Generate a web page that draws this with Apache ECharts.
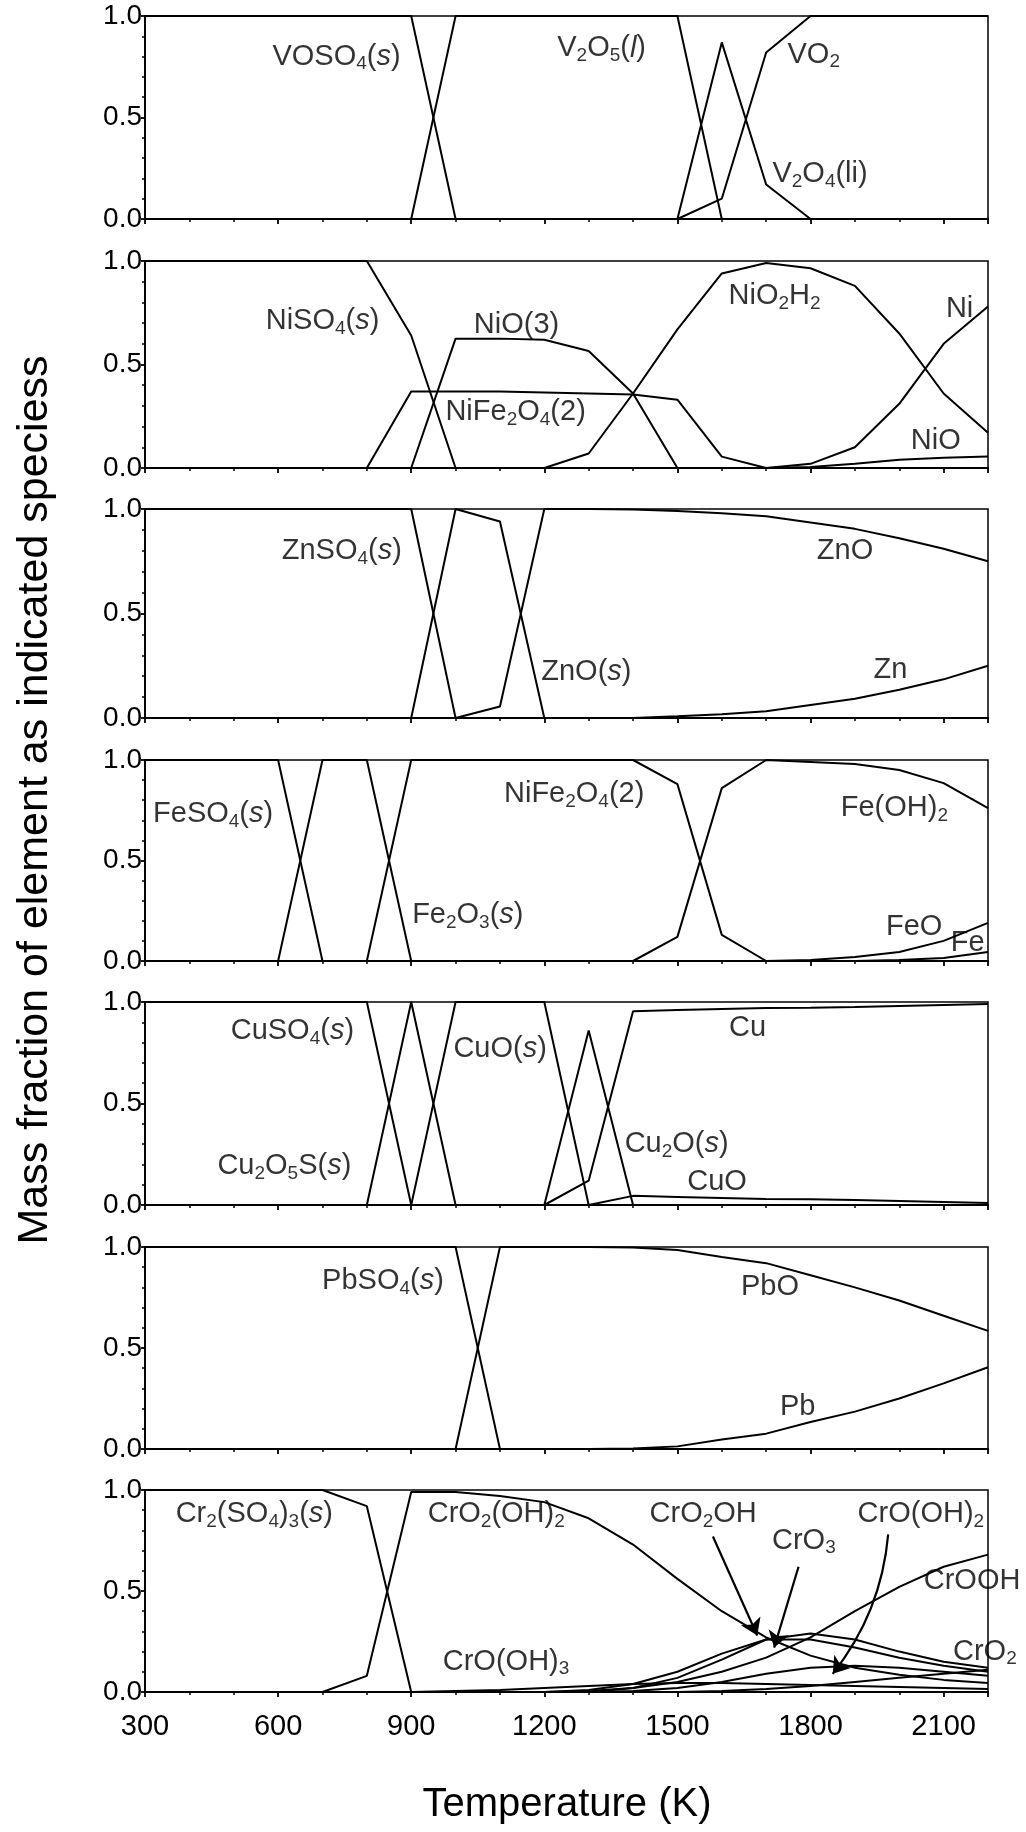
<!DOCTYPE html>
<html>
<head>
<meta charset="utf-8">
<script src="https://cdn.jsdelivr.net/npm/echarts@6/dist/echarts.min.js"></script>
<style>
  html, body { margin: 0; padding: 0; background: #fff; }
  #chart { width: 1026px; height: 1832px; }
</style>
</head>
<body>
<div id="chart"></div>
<script>
// temperature grid (K), one value per 100 K
const temps = [300, 400, 500, 600, 700, 800, 900, 1000, 1100, 1200, 1300, 1400, 1500, 1600, 1700, 1800, 1900, 2000, 2100, 2200];

// vanadium
const VOSO4   = [1, 1, 1, 1, 1, 1, 1, 0, 0, 0, 0, 0, 0, 0, 0, 0, 0, 0, 0, 0];
const V2O5    = [0, 0, 0, 0, 0, 0, 0, 1, 1, 1, 1, 1, 1, 0, 0, 0, 0, 0, 0, 0];
const V2O4li  = [0, 0, 0, 0, 0, 0, 0, 0, 0, 0, 0, 0, 0, 0.87, 0.17, 0, 0, 0, 0, 0];
const VO2     = [0, 0, 0, 0, 0, 0, 0, 0, 0, 0, 0, 0, 0, 0.1, 0.82, 1, 1, 1, 1, 1];

// nickel
const NiSO4   = [1, 1, 1, 1, 1, 1, 0.64, 0, 0, 0, 0, 0, 0, 0, 0, 0, 0, 0, 0, 0];
const NiFe2O4 = [0, 0, 0, 0, 0, 0, 0.37, 0.37, 0.37, 0.365, 0.36, 0.355, 0.33, 0.055, 0, 0, 0, 0, 0, 0];
const NiO3    = [0, 0, 0, 0, 0, 0, 0, 0.625, 0.625, 0.62, 0.565, 0.36, 0, 0, 0, 0, 0, 0, 0, 0];
const NiO2H2  = [0, 0, 0, 0, 0, 0, 0, 0, 0, 0, 0.07, 0.36, 0.67, 0.94, 0.99, 0.965, 0.88, 0.65, 0.36, 0.17];
const Ni      = [0, 0, 0, 0, 0, 0, 0, 0, 0, 0, 0, 0, 0, 0, 0, 0.02, 0.1, 0.31, 0.6, 0.78];
const NiO     = [0, 0, 0, 0, 0, 0, 0, 0, 0, 0, 0, 0, 0, 0, 0, 0.005, 0.02, 0.04, 0.05, 0.055];

// zinc
const ZnSO4   = [1, 1, 1, 1, 1, 1, 1, 0, 0, 0, 0, 0, 0, 0, 0, 0, 0, 0, 0, 0];
const ZnOs    = [0, 0, 0, 0, 0, 0, 0, 1, 0.94, 0, 0, 0, 0, 0, 0, 0, 0, 0, 0, 0];
const ZnO     = [0, 0, 0, 0, 0, 0, 0, 0, 0.055, 1, 1, 0.998, 0.99, 0.98, 0.965, 0.935, 0.905, 0.86, 0.81, 0.75];
const Zn      = [0, 0, 0, 0, 0, 0, 0, 0, 0, 0, 0, 0, 0.008, 0.018, 0.032, 0.062, 0.092, 0.135, 0.185, 0.25];

// iron
const FeSO4   = [1, 1, 1, 1, 0, 0, 0, 0, 0, 0, 0, 0, 0, 0, 0, 0, 0, 0, 0, 0];
const Fe2O3   = [0, 0, 0, 0, 1, 1, 0, 0, 0, 0, 0, 0, 0, 0, 0, 0, 0, 0, 0, 0];
const NiFe2O4Fe = [0, 0, 0, 0, 0, 0, 1, 1, 1, 1, 1, 1, 0.88, 0.13, 0, 0, 0, 0, 0, 0];
const FeOH2   = [0, 0, 0, 0, 0, 0, 0, 0, 0, 0, 0, 0, 0.12, 0.86, 1, 0.99, 0.98, 0.95, 0.885, 0.76];
const FeO     = [0, 0, 0, 0, 0, 0, 0, 0, 0, 0, 0, 0, 0, 0, 0, 0.005, 0.02, 0.045, 0.1, 0.19];
const Fe      = [0, 0, 0, 0, 0, 0, 0, 0, 0, 0, 0, 0, 0, 0, 0, 0, 0, 0.005, 0.015, 0.045];

// copper
const CuSO4   = [1, 1, 1, 1, 1, 1, 0, 0, 0, 0, 0, 0, 0, 0, 0, 0, 0, 0, 0, 0];
const Cu2O5S  = [0, 0, 0, 0, 0, 0, 1, 0, 0, 0, 0, 0, 0, 0, 0, 0, 0, 0, 0, 0];
const CuOs    = [0, 0, 0, 0, 0, 0, 0, 1, 1, 1, 0, 0, 0, 0, 0, 0, 0, 0, 0, 0];
const Cu2Os   = [0, 0, 0, 0, 0, 0, 0, 0, 0, 0, 0.86, 0, 0, 0, 0, 0, 0, 0, 0, 0];
const Cu      = [0, 0, 0, 0, 0, 0, 0, 0, 0, 0, 0.12, 0.955, 0.96, 0.965, 0.97, 0.972, 0.975, 0.98, 0.985, 0.99];
const CuO     = [0, 0, 0, 0, 0, 0, 0, 0, 0, 0, 0, 0.045, 0.04, 0.035, 0.03, 0.028, 0.025, 0.02, 0.015, 0.01];

// lead
const PbSO4   = [1, 1, 1, 1, 1, 1, 1, 1, 0, 0, 0, 0, 0, 0, 0, 0, 0, 0, 0, 0];
const PbO     = [0, 0, 0, 0, 0, 0, 0, 0, 1, 1, 1, 0.998, 0.985, 0.95, 0.92, 0.86, 0.8, 0.735, 0.66, 0.585];
const Pb      = [0, 0, 0, 0, 0, 0, 0, 0, 0, 0, 0, 0.002, 0.013, 0.047, 0.076, 0.134, 0.185, 0.25, 0.325, 0.405];

// chromium
const Cr2SO43 = [1, 1, 1, 1, 1, 0.92, 0, 0, 0, 0, 0, 0, 0, 0, 0, 0, 0, 0, 0, 0];
const CrO2OH2 = [0, 0, 0, 0, 0, 0.08, 0.99, 0.99, 0.97, 0.94, 0.86, 0.73, 0.56, 0.4, 0.27, 0.18, 0.12, 0.085, 0.06, 0.045];
const CrOOH   = [0, 0, 0, 0, 0, 0, 0, 0, 0, 0, 0, 0.02, 0.05, 0.1, 0.17, 0.27, 0.4, 0.52, 0.62, 0.68];
const CrO2OH  = [0, 0, 0, 0, 0, 0, 0, 0, 0, 0, 0.01, 0.04, 0.1, 0.19, 0.26, 0.26, 0.22, 0.17, 0.13, 0.1];
const CrO3    = [0, 0, 0, 0, 0, 0, 0, 0, 0, 0, 0.005, 0.02, 0.07, 0.16, 0.26, 0.29, 0.26, 0.2, 0.15, 0.12];
const CrOOH2  = [0, 0, 0, 0, 0, 0, 0, 0, 0, 0, 0, 0.005, 0.02, 0.05, 0.09, 0.12, 0.13, 0.12, 0.1, 0.08];
const CrO2    = [0, 0, 0, 0, 0, 0, 0, 0, 0, 0, 0, 0, 0, 0.005, 0.015, 0.03, 0.05, 0.07, 0.09, 0.11];
const CrOOH3  = [0, 0, 0, 0, 0, 0, 0, 0.005, 0.01, 0.02, 0.03, 0.04, 0.045, 0.045, 0.04, 0.035, 0.03, 0.025, 0.02, 0.015];

const FONT = 'Liberation Sans';

// one entry per panel: curves, labels [T, fraction, rich text]
const panels = [
  { top: 16, height: 203, curves: [VOSO4, V2O5, V2O4li, VO2],
    labels: [[586, 0.80, 'VOSO{s|4}({i|s})'], [1228, 0.84, 'V{s|2}O{s|5}({i|l})'],
             [1747, 0.81, 'VO{s|2}'], [1713, 0.22, 'V{s|2}O{s|4}(li)']] },
  { top: 261, height: 207, curves: [NiSO4, NiFe2O4, NiO3, NiO2H2, Ni, NiO],
    labels: [[571, 0.71, 'NiSO{s|4}({i|s})'], [1040, 0.69, 'NiO(3)'], [976, 0.27, 'NiFe{s|2}O{s|4}(2)'],
             [1614, 0.83, 'NiO{s|2}H{s|2}'], [2104, 0.77, 'Ni'], [2025, 0.13, 'NiO']] },
  { top: 509, height: 209, curves: [ZnSO4, ZnOs, ZnO, Zn],
    labels: [[607, 0.80, 'ZnSO{s|4}({i|s})'], [1192, 0.22, 'ZnO({i|s})'], [1813, 0.80, 'ZnO'], [1941, 0.23, 'Zn']] },
  { top: 760, height: 201, curves: [FeSO4, Fe2O3, NiFe2O4Fe, FeOH2, FeO, Fe],
    labels: [[317, 0.73, 'FeSO{s|4}({i|s})'], [901, 0.23, 'Fe{s|2}O{s|3}({i|s})'], [1108, 0.83, 'NiFe{s|2}O{s|4}(2)'],
             [1867, 0.76, 'Fe(OH){s|2}'], [1969, 0.17, 'FeO'], [2115, 0.09, 'Fe']] },
  { top: 1002, height: 203, curves: [CuSO4, Cu2O5S, CuOs, Cu2Os, Cu, CuO],
    labels: [[492, 0.855, 'CuSO{s|4}({i|s})'], [462, 0.19, 'Cu{s|2}O{s|5}S({i|s})'], [994, 0.77, 'CuO({i|s})'],
             [1615, 0.87, 'Cu'], [1380, 0.30, 'Cu{s|2}O({i|s})'], [1521, 0.115, 'CuO']] },
  { top: 1247, height: 202, curves: [PbSO4, PbO, Pb],
    labels: [[698, 0.83, 'PbSO{s|4}({i|s})'], [1642, 0.80, 'PbO'], [1730, 0.21, 'Pb']] },
  { top: 1490, height: 202, curves: [Cr2SO43, CrO2OH2, CrOOH, CrO2OH, CrO3, CrOOH2, CrO2, CrOOH3],
    labels: [[368, 0.88, 'Cr{s|2}(SO{s|4}){s|3}({i|s})'], [936, 0.88, 'CrO{s|2}(OH){s|2}'], [1436, 0.88, 'CrO{s|2}OH'],
             [1712, 0.75, 'CrO{s|3}'], [1905, 0.88, 'CrO(OH){s|2}'], [2054, 0.55, 'CrOOH'], [2120, 0.20, 'CrO{s|2}'],
             [970, 0.15, 'CrO(OH){s|3}']],
    arrows: [[[1580, 0.77], [1680, 0.28], 0], [[1773, 0.62], [1718, 0.22], 0], [[1975, 0.78], [1850, 0.09], 0.15]] }
];

const chart = echarts.init(document.getElementById('chart'), null, { renderer: 'canvas' });

const grid = [], xAxis = [], yAxis = [], series = [];
panels.forEach((p, i) => {
  grid.push({ left: 145, width: 843, top: p.top, height: p.height, show: true,
              borderColor: '#000', borderWidth: 1.5, backgroundColor: 'transparent' });
  xAxis.push({
    gridIndex: i, type: 'value', min: 300, max: 2200, interval: 300,
    axisLine: { lineStyle: { color: '#000', width: 2.2 } },
    axisTick: { show: true, length: 5, lineStyle: { color: '#000', width: 1.8 } },
    minorTick: { show: true, splitNumber: 3, length: 3, lineStyle: { color: '#000', width: 1.5 } },
    splitLine: { show: false },
    axisLabel: { show: i === panels.length - 1, color: '#000', fontSize: 29, fontFamily: FONT, margin: 20,
                 formatter: v => String(v) }
  });
  yAxis.push({
    gridIndex: i, type: 'value', min: 0, max: 1, interval: 0.5,
    axisLine: { show: true, lineStyle: { color: '#000', width: 1.8 } },
    axisTick: { show: true, length: 4, lineStyle: { color: '#000', width: 1.8 } },
    minorTick: { show: true, splitNumber: 5, length: 3, lineStyle: { color: '#000', width: 1.5 } },
    splitLine: { show: false },
    axisLabel: { color: '#000', fontSize: 28, fontFamily: FONT, margin: 3,
                 formatter: v => v.toFixed(1) }
  });
  p.curves.forEach(arr => {
    series.push({
      type: 'line', xAxisIndex: i, yAxisIndex: i, showSymbol: false, silent: true,
      lineStyle: { color: '#000', width: 2 },
      data: temps.map((t, k) => [t, arr[k]])
    });
  });
  series.push({
    type: 'scatter', xAxisIndex: i, yAxisIndex: i, symbolSize: 1, silent: true,
    itemStyle: { color: 'rgba(0,0,0,0)' },
    label: {
      show: true, position: 'right', distance: 0, color: '#000',
      fontFamily: FONT, fontSize: 29, lineHeight: 34,
      rich: {
        s: { fontFamily: FONT, fontSize: 19, lineHeight: 16, verticalAlign: 'bottom', color: '#000' },
        i: { fontFamily: FONT, fontSize: 29, lineHeight: 34, fontStyle: 'italic', color: '#000' }
      }
    },
    data: p.labels.map(l => ({ value: [l[0], l[1]], label: { formatter: l[2] } }))
  });
  if (p.arrows) {
    p.arrows.forEach(a => {
      series.push({
        type: 'lines', coordinateSystem: 'cartesian2d', xAxisIndex: i, yAxisIndex: i, silent: true,
        symbol: ['none', 'arrow'], symbolSize: 16,
        lineStyle: { color: '#000', width: 2.2, curveness: a[2], opacity: 1 },
        data: [{ coords: [a[0], a[1]] }]
      });
    });
  }
});

chart.setOption({
  animation: false,
  backgroundColor: '#fff',
  grid: grid,
  xAxis: xAxis,
  yAxis: yAxis,
  series: series,
  graphic: [
    { type: 'text', x: 35, y: 800, rotation: Math.PI / 2,
      style: { text: 'Mass fraction of element as indicated speciess', fill: '#000',
               font: '43px "Liberation Sans"', align: 'center', verticalAlign: 'middle' } },
    { type: 'text', x: 567, y: 1805,
      style: { text: 'Temperature (K)', fill: '#000',
               font: '40px "Liberation Sans"', align: 'center', verticalAlign: 'middle' } }
  ]
});
</script>
</body>
</html>
